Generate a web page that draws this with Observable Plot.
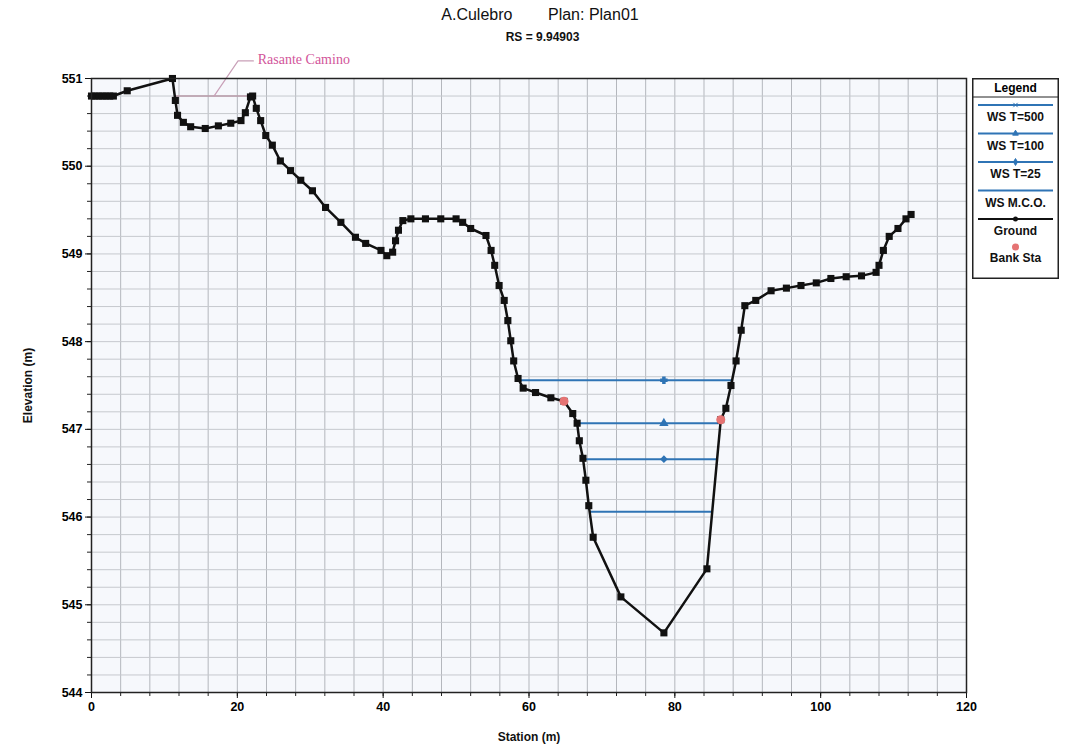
<!DOCTYPE html>
<html>
<head>
<meta charset="utf-8">
<script src="https://cdn.jsdelivr.net/npm/d3@7"></script>
<script src="https://cdn.jsdelivr.net/npm/@observablehq/plot@0.6"></script>
<style>
  body { margin: 0; background: #ffffff; font-family: "Liberation Sans", Arial, sans-serif; }
  #wrap { position: relative; width: 1065px; height: 753px; overflow: hidden; }
  #title { height: 50px; text-align: center; position: relative; }
  #t1 { position: absolute; top: 6px; left: 0; width: 1080px; font-size: 16px; color: #111; }
  #t2 { position: absolute; top: 30px; left: 0; width: 1085px; font-size: 12px; font-weight: bold; color: #111; }
  #legend { position: absolute; left: 972px; top: 78px; }
</style>
</head>
<body>
<div id="wrap">
  <div id="title">
    <div id="t1">A.Culebro&nbsp;&nbsp;&nbsp;&nbsp;&nbsp;&nbsp;&nbsp;&nbsp;Plan: Plan01</div>
    <div id="t2">RS = 9.94903</div>
  </div>
  <div id="chart"></div>
  <div id="legend"></div>
</div>
<script>
// ---- data ----
const groundStation = [0, 0.5, 1, 1.5, 2, 2.5, 3, 4.9, 11.1, 11.5, 11.8, 12.6, 13.6, 15.6, 17.4, 19.1, 20.5, 21.1, 21.8, 22.1,
  22.6, 23.2, 23.9, 24.8, 25.9, 27.3, 28.7, 30.3, 32.1, 34.2, 36.2, 37.6, 39.7, 40.5, 41.3, 41.7, 42.1, 42.7, 43.8, 45.8,
  47.9, 50.0, 50.9, 52.0, 54.1, 54.8, 55.3, 55.9, 56.6, 57.1, 57.5, 57.9, 58.5, 59.2, 60.9, 63.0, 64.8, 66.0, 66.6, 66.9,
  67.4, 67.8, 68.2, 68.8, 72.6, 78.5, 84.4, 86.3, 87.0, 87.7, 88.4, 89.1, 89.6, 91.1, 93.2, 95.3, 97.3, 99.4, 101.4, 103.5,
  105.6, 107.6, 108.0, 108.6, 109.4, 110.6, 111.7, 112.4];
const groundElev = [550.8, 550.8, 550.8, 550.8, 550.8, 550.8, 550.8, 550.86, 551.0, 550.75, 550.58, 550.5, 550.45, 550.43, 550.46, 550.49, 550.52, 550.61, 550.79, 550.8,
  550.66, 550.52, 550.35, 550.24, 550.06, 549.95, 549.84, 549.72, 549.53, 549.36, 549.19, 549.12, 549.04, 548.98, 549.02, 549.15, 549.27, 549.38, 549.4, 549.4,
  549.4, 549.4, 549.36, 549.29, 549.21, 549.04, 548.87, 548.64, 548.47, 548.24, 548.01, 547.78, 547.58, 547.47, 547.42, 547.36, 547.32, 547.18, 547.07, 546.87,
  546.67, 546.42, 546.13, 545.77, 545.09, 544.68, 545.41, 547.11, 547.24, 547.5, 547.78, 548.13, 548.41, 548.47, 548.58, 548.61, 548.64, 548.67, 548.72, 548.74,
  548.75, 548.79, 548.87, 549.04, 549.2, 549.29, 549.4, 549.45];

const wsNames = ["WS T=500", "WS T=100", "WS T=25", "WS M.C.O."];
const wsElev  = [547.56, 547.07, 546.66, 546.06];
const wsLeft  = [58.9, 66.6, 67.4, 68.3];
const wsRight = [87.9, 86.3, 85.8, 85.0];
const wsMarkX = [78.5, 78.5, 78.5, null];

const bankStation = [64.8, 86.3];
const bankElev    = [547.32, 547.11];

const rasanteStation = [11.5, 22.1];
const rasanteElev    = [550.8, 550.8];
const rasanteLabel   = "Rasante Camino";

const xTicks = [0, 20, 40, 60, 80, 100, 120];
const yTicks = [544, 545, 546, 547, 548, 549, 550, 551];

// ---- derived tables ----
const ground = groundStation.map((s, i) => ({ x: s, y: groundElev[i] }));
const ws = wsNames.map((n, i) => ({ name: n, y: wsElev[i], x1: wsLeft[i], x2: wsRight[i], mx: wsMarkX[i] }));
const banks = bankStation.map((s, i) => ({ x: s, y: bankElev[i] }));
const gridXv = d3.range(0, 121, 4);
const gridYv = d3.range(544, 551.001, 0.2).map(v => +v.toFixed(1));

const wsColor = "#2f74b5";
const markSym = ["cross", "triangle", "diamond2", "circle"];

const plot = Plot.plot({
  width: 1065,
  height: 703,
  marginTop: 28,
  marginBottom: 61,
  marginLeft: 91,
  marginRight: 99,
  style: { fontFamily: "Liberation Sans, Arial, sans-serif", fontSize: "12px", background: "transparent", overflow: "visible" },
  x: { domain: [0, 120], label: null },
  y: { domain: [544, 551], label: null },
  marks: [
    Plot.frame({ fill: "#f6f8fc" }),
    Plot.ruleX(gridXv, { stroke: "#b4b7bd", strokeWidth: 1 }),
    Plot.ruleY(gridYv, { stroke: "#c6c9ce", strokeWidth: 1 }),
    // minor axes
    Plot.axisX(gridXv, { tickSize: 4, tickFormat: () => "", stroke: "#222" }),
    Plot.axisY(gridYv, { tickSize: 4, tickFormat: () => "", stroke: "#222" }),
    // major axes
    Plot.axisX(xTicks, { tickSize: 6, tickFormat: "d", fontWeight: "bold", fontSize: 12.5, tickPadding: 4, label: null, stroke: "#111" }),
    Plot.axisY(yTicks, { tickSize: 6, tickFormat: "d", fontWeight: "bold", fontSize: 12.5, tickPadding: 3, label: null, stroke: "#111" }),
    // Rasante Camino
    Plot.line([{ x: rasanteStation[0], y: rasanteElev[0] }, { x: rasanteStation[1], y: rasanteElev[1] }], { x: "x", y: "y", stroke: "#b89aa8", strokeWidth: 1.5 }),
    Plot.line([{ x: 16.8, y: 550.8 }, { x: 20.1, y: 551.2 }, { x: 22.2, y: 551.2 }], { x: "x", y: "y", stroke: "#c9a0b8", strokeWidth: 1.2 }),
    Plot.text([rasanteLabel], { x: 22.8, y: 551.22, text: d => d, textAnchor: "start", fill: "#d2559a", fontSize: 14, fontFamily: "Liberation Serif, serif" }),
    // water surfaces
    Plot.link(ws, { x1: "x1", x2: "x2", y1: "y", y2: "y", stroke: wsColor, strokeWidth: 2 }),
    Plot.dot(ws.filter(d => d.mx != null), { x: "mx", y: "y", symbol: (d, i) => markSym[i], r: 2.5, fill: wsColor, stroke: wsColor }),
    // ground
    Plot.line(ground, { x: "x", y: "y", stroke: "#111", strokeWidth: 2.5 }),
    Plot.dot(ground, { x: "x", y: "y", symbol: "square", r: 4, fill: "#111", stroke: "none" }),
    // bank stations
    Plot.dot(banks, { x: "x", y: "y", r: 4.5, fill: "#e57373", stroke: "none" }),
    Plot.frame({ stroke: "#222", strokeWidth: 1.5 }),
    // axis titles
    Plot.text(["Station (m)"], { x: 60, y: 544, text: d => d, dy: 45, fontSize: 12, fontWeight: "bold", fill: "#111" }),
    Plot.text(["Elevation (m)"], { x: 0, y: 547.5, text: d => d, dx: -63, rotate: -90, fontSize: 12, fontWeight: "bold", fill: "#111" })
  ]
});
document.getElementById("chart").appendChild(plot);

// ---- legend ----
const legendItems = [
  { label: "WS T=500", color: wsColor, sym: "x" },
  { label: "WS T=100", color: wsColor, sym: "tri" },
  { label: "WS T=25", color: wsColor, sym: "dia" },
  { label: "WS M.C.O.", color: wsColor, sym: null },
  { label: "Ground", color: "#111", sym: "dot" }
];
const lw = 87, lh = 201;
const lsvg = d3.select("#legend").append("svg").attr("width", lw).attr("height", lh)
  .style("font-family", "Liberation Sans, Arial, sans-serif").style("font-size", "12px").style("font-weight", "bold");
lsvg.append("rect").attr("x", 0.75).attr("y", 0.75).attr("width", lw - 1.5).attr("height", lh - 1.5).attr("fill", "#fff").attr("stroke", "#222").attr("stroke-width", 1.5);
lsvg.append("line").attr("x1", 0).attr("x2", lw).attr("y1", 19).attr("y2", 19).attr("stroke", "#222");
lsvg.append("text").attr("x", lw / 2).attr("y", 14).attr("text-anchor", "middle").text("Legend");
legendItems.forEach((d, i) => {
  const ly = 27 + i * 28.5;
  lsvg.append("line").attr("x1", 6).attr("x2", lw - 6).attr("y1", ly).attr("y2", ly).attr("stroke", d.color).attr("stroke-width", 2);
  if (d.sym === "dot") lsvg.append("circle").attr("cx", lw / 2).attr("cy", ly).attr("r", 2.5).attr("fill", d.color);
  else if (d.sym) lsvg.append("path").attr("d", d3.symbol(d.sym === "x" ? d3.symbolX : d.sym === "tri" ? d3.symbolTriangle : d3.symbolDiamond, 14)())
      .attr("transform", `translate(${lw / 2},${ly})`).attr("fill", d.color).attr("stroke", d.color);
  lsvg.append("text").attr("x", lw / 2).attr("y", ly + 16).attr("text-anchor", "middle").attr("fill", "#111").text(d.label);
});
lsvg.append("circle").attr("cx", lw / 2).attr("cy", 169).attr("r", 3.5).attr("fill", "#e57373");
lsvg.append("text").attr("x", lw / 2).attr("y", 184).attr("text-anchor", "middle").attr("fill", "#111").text("Bank Sta");
</script>
</body>
</html>
